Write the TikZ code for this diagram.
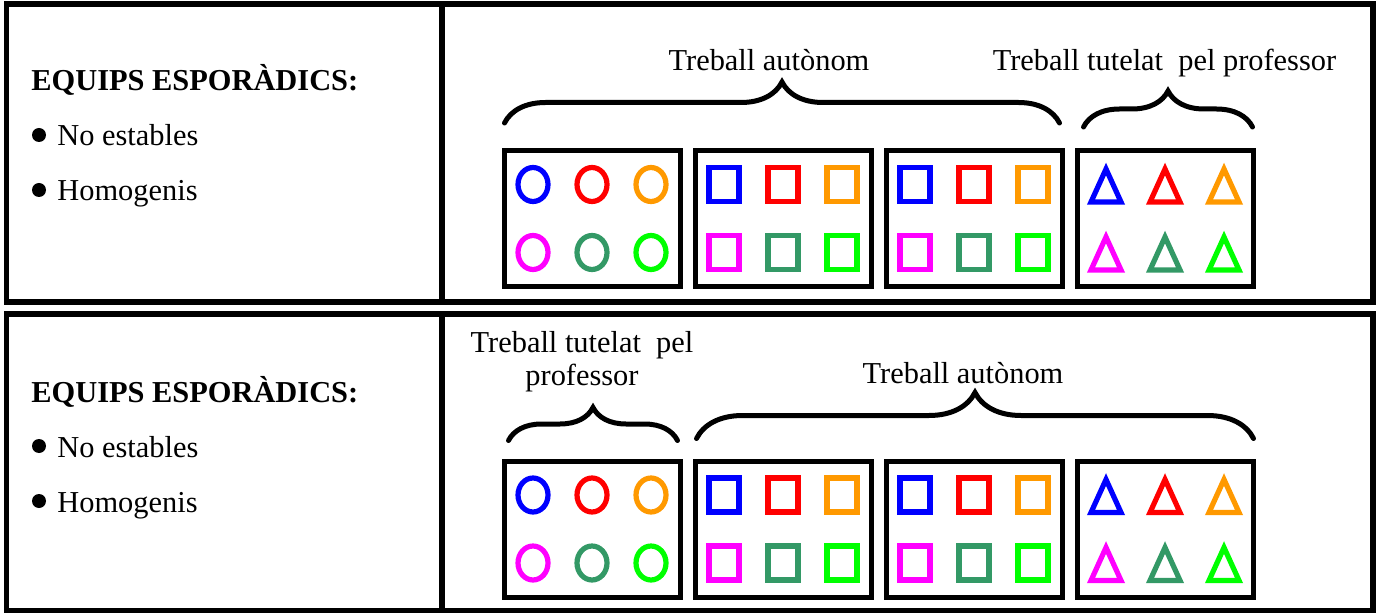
\documentclass[tikz,border=0pt]{standalone}
\usepackage{fontspec}
\setmainfont{Liberation Serif}
\usepackage{tikz}
\usetikzlibrary{positioning, decorations.pathreplacing}
\definecolor{equipblue}{HTML}{0000FF}
\definecolor{equipred}{HTML}{FF0000}
\definecolor{equiporange}{HTML}{FF9900}
\definecolor{equipmagenta}{HTML}{FF00FF}
\definecolor{equipteal}{HTML}{339966}
\definecolor{equipgreen}{HTML}{00FF00}

\tikzset{
  panel/.style={line width=2.75pt},
  grupbox/.style={draw, line width=2.5pt, minimum width=88pt, minimum height=68pt, inner sep=0pt},
  member/.style={line width=2.6pt},
  bracket/.style={decorate, decoration={brace, amplitude=#1}, line width=2.5pt, line cap=round},
  heading/.style={anchor=base west, inner sep=0pt, font=\bfseries\fontsize{15.2pt}{18pt}\selectfont},
  itemtext/.style={anchor=base west, inner sep=0pt, font=\fontsize{15.2pt}{18pt}\selectfont},
  tagtext/.style={anchor=base, inner sep=0pt, align=center, font=\fontsize{15.2pt}{16.5pt}\selectfont}
}

% six team members, offsets from the box centre
\def\membres{-59/-34/equipblue, 0/-34/equipred, 59/-34/equiporange,
  -59/34/equipmagenta, 0/34/equipteal, 59/34/equipgreen}
\newcommand{\rodones}[2]{%
  \foreach \dx/\dy/\col in \membres
    \draw[member, color=\col] ({#1+\dx},{#2+\dy}) ellipse (15 and 17);}
\newcommand{\quadrats}[2]{%
  \foreach \dx/\dy/\col in \membres
    \draw[member, color=\col] ({#1+\dx-15},{#2+\dy-17}) rectangle ({#1+\dx+15},{#2+\dy+17});}
\newcommand{\triangles}[2]{%
  \foreach \dx/\dy/\col in \membres
    \draw[member, color=\col] ({#1+\dx},{#2+\dy-15.5}) -- ({#1+\dx+15},{#2+\dy+17.5})
      -- ({#1+\dx-15},{#2+\dy+17.5}) -- cycle;}

\begin{document}
\begin{tikzpicture}[x=0.5pt, y=-0.5pt]
  \useasboundingbox (0,0) rectangle (1379,614);

  % the two panels
  \draw[panel] (6.5,4) rectangle (1373,302);
  \draw[panel] (442,4) -- (442,302);
  \draw[panel] (6.5,314) rectangle (1373,610.5);
  \draw[panel] (442,314) -- (442,610.5);

  % left column
  \foreach \y/\n in {0/t, 311/b} {
    \node[heading] (\n head) at (31,91+\y) {EQUIPS ESPORÀDICS:};
    \fill (39,135+\y) circle (7);
    \node[itemtext] (\n item1) at (57,146+\y) {No estables};
    \fill (39,190+\y) circle (7);
    \node[itemtext] (\n item2) at (57,201+\y) {Homogenis};
  }

  % team boxes
  \foreach \y/\n in {218.5/t, 529/b}
    \foreach \x [count=\i] in {592,783,974,1165}
      \node[grupbox] (\n box\i) at (\x,\y) {};

  \foreach \y in {218.5, 529} {
    \rodones{592}{\y}
    \quadrats{783}{\y}
    \quadrats{974}{\y}
    \triangles{1165}{\y}
  }

  % top panel braces
  \draw[bracket=20.5pt] ([shift={(3,-25)}]tbox1.north west) -- ([shift={(-5,-25)}]tbox3.north east);
  \draw[bracket=18pt] ([shift={(9,-21)}]tbox4.north west) -- ([shift={(-3,-21)}]tbox4.north east);
  \node[tagtext] (tauto) at (769,71) {Treball autònom};
  \node[tagtext] (ttutor) at (1164.5,71) {Treball tutelat\ \ pel professor};

  % bottom panel braces
  \draw[bracket=16.5pt] ([shift={(7,-18)}]bbox1.north west) -- ([shift={(-5,-18)}]bbox1.north east);
  \draw[bracket=23pt] ([shift={(4,-20)}]bbox2.north west) -- ([shift={(-2,-20)}]bbox4.north east);
  \node[tagtext] (btutor) at (582,385) {Treball tutelat\ \ pel\\professor};
  \node[tagtext] (bauto) at (963,383) {Treball autònom};
\end{tikzpicture}
\end{document}
